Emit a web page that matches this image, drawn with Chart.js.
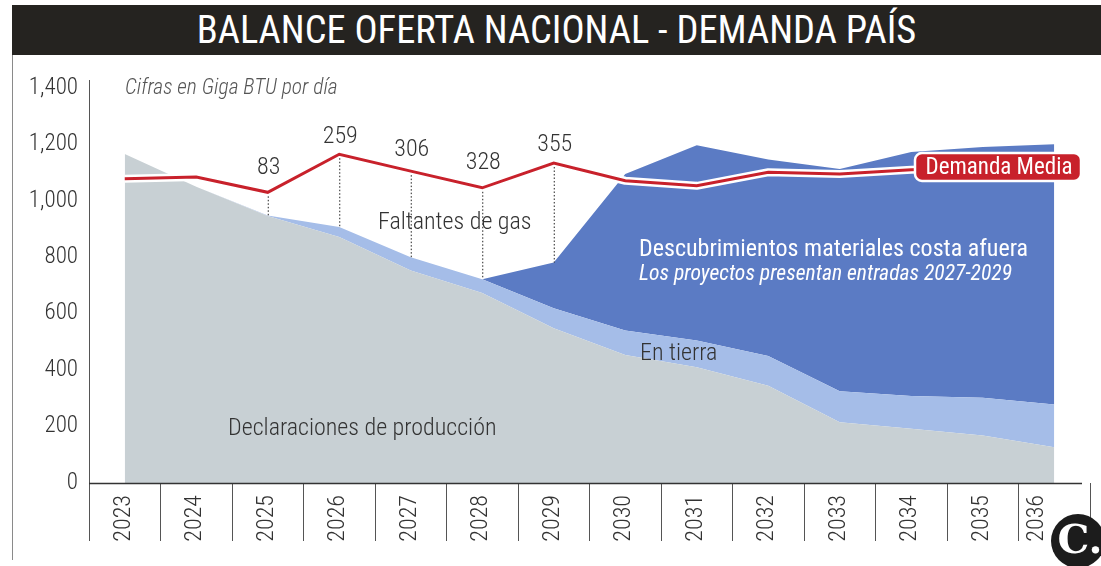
<!DOCTYPE html>
<html>
<head>
<meta charset="utf-8">
<script src="https://cdn.jsdelivr.net/npm/chart.js@4.4.0/dist/chart.umd.min.js"></script>
<style>
  html, body { margin: 0; padding: 0; background: #fff; }
  body { width: 1101px; height: 566px; position: relative; overflow: hidden; }
  .title-bar {
    position: absolute; left: 12px; top: 5px; right: 0; height: 50px;
    background: #252320; color: #fff; text-align: center;
    font-family: Roboto; font-weight: 400; font-size: 38.5px; font-stretch: condensed;
    line-height: 50px; z-index: 2;
  }
  .left-rule { position: absolute; left: 12px; top: 5px; bottom: 6px; width: 1px; background: #8a8a8a; }
  #chartBox { position: absolute; left: 0; top: 0; width: 1101px; height: 566px; }
</style>
</head>
<body>
  <div class="left-rule"></div>
  <div class="title-bar">BALANCE OFERTA NACIONAL - DEMANDA PAÍS</div>
  <div id="chartBox"><canvas id="balanceChart"></canvas></div>
  <script>
    // chart data
    let chartYears = ["2023", "2024", "2025", "2026", "2027", "2028", "2029",
      "2030", "2031", "2032", "2033", "2034", "2035", "2036"];
    let chartDeclaraciones = [1166, 1050, 946, 872, 753, 673, 548, 454, 410, 345, 215, 192, 168, 127];
    let chartEnTierra = [0, 0, 2, 35, 47, 49, 71, 86, 95, 105, 110, 116, 134, 151];
    let chartCostaAfuera = [0, 0, 0, 0, 0, 0, 162, 555, 692, 696, 788, 865, 889, 922];
    let chartDemanda = [1078, 1084, 1030, 1165, 1105, 1046, 1134, 1071, 1053, 1101, 1095, 1110, 1117, 1122];
    let chartFaltantes = [null, null, 83, 259, 306, 328, 355, null, null, null, null, null, null, null];
    let chartYTicks = [0, 200, 400, 600, 800, 1000, 1200, 1400];

    // chart colors
    let chartGray = "#c8d0d4";
    let chartLightBlue = "#a5bde8";
    let chartDarkBlue = "#5b7bc4";
    let chartRed = "#c8212b";
    let chartText = "#333333";

    // chart font (Roboto, condensed width)
    let chartFont = "Roboto";
    let chartStretch = "condensed";
    function fontStr(size, weight, style) {
      return (style || "normal") + " " + chartStretch + " " + (weight || 300) + " " + size + "px " + chartFont;
    }

    let supplyTotal = chartDeclaraciones.map((v, i) => v + chartEnTierra[i] + chartCostaAfuera[i]);

    const annotationPlugin = {
      id: "annotations",
      afterDatasetsDraw(chart) {
        const ctx = chart.ctx;
        const xs = chart.scales.x;
        const ys = chart.scales.y;
        ctx.save();

        // dotted gap lines + values
        chartFaltantes.forEach((val, i) => {
          if (val === null) return;
          const x = xs.getPixelForValue(i);
          const d = chartDemanda[i];
          const yTop = ys.getPixelForValue(d) + 4;
          const yBot = ys.getPixelForValue(supplyTotal[i]);
          ctx.beginPath();
          ctx.setLineDash([1.5, 2]);
          ctx.strokeStyle = "#222";
          ctx.lineWidth = 1;
          ctx.moveTo(x + 0.5, yTop);
          ctx.lineTo(x + 0.5, yBot);
          ctx.stroke();
          ctx.setLineDash([]);
          // peaks sit closer to the line, dips a bit higher
          let lift = 21;
          if (d > chartDemanda[i - 1] && d > chartDemanda[i + 1]) lift = 17.5;
          if (d < chartDemanda[i - 1] && d < chartDemanda[i + 1]) lift = 24.5;
          ctx.fillStyle = chartText;
          ctx.font = fontStr(24, 300);
          ctx.textAlign = "center";
          ctx.textBaseline = "middle";
          ctx.fillText(String(val), x + 1, ys.getPixelForValue(d) - lift);
        });

        // area texts
        ctx.textAlign = "left";
        ctx.textBaseline = "alphabetic";
        ctx.fillStyle = "#555";
        ctx.font = fontStr(21.5, 300, "italic");
        ctx.fillText("Cifras en Giga BTU por día", 125, 94);

        ctx.fillStyle = chartText;
        ctx.font = fontStr(24, 300);
        ctx.fillText("Faltantes de gas", 378, 229);
        ctx.fillText("En tierra", 640, 360);
        ctx.fillText("Declaraciones de producción", 228, 435);

        ctx.fillStyle = "#ffffff";
        ctx.font = fontStr(24, 400);
        ctx.fillText("Descubrimientos materiales costa afuera", 639, 256);
        ctx.font = fontStr(21.6, 400, "italic");
        ctx.fillText("Los proyectos presentan entradas 2027-2029", 639, 280);

        // Demanda Media tag
        ctx.beginPath();
        ctx.roundRect(915, 153, 166, 28, 7);
        ctx.fillStyle = chartRed;
        ctx.fill();
        ctx.lineWidth = 2.5;
        ctx.strokeStyle = "#ffffff";
        ctx.stroke();
        ctx.fillStyle = "#ffffff";
        ctx.font = fontStr(23, 400);
        ctx.textAlign = "center";
        ctx.textBaseline = "middle";
        ctx.fillText("Demanda Media", 999, 168);
        ctx.restore();
      },
      afterDraw(chart) {
        const ctx = chart.ctx;
        const xs = chart.scales.x;
        const area = chart.chartArea;
        ctx.save();
        // x axis line
        ctx.beginPath();
        ctx.strokeStyle = "#333";
        ctx.lineWidth = 1.5;
        ctx.moveTo(area.left, area.bottom + 0.5);
        ctx.lineTo(1082, area.bottom + 0.5);
        ctx.stroke();

        // year labels, rotated
        ctx.fillStyle = chartText;
        ctx.font = fontStr(24, 300);
        ctx.textAlign = "right";
        ctx.textBaseline = "middle";
        chartYears.forEach((yr, i) => {
          let x = xs.getPixelForValue(i) - 1;
          if (i === chartYears.length - 1) x = (xs.getPixelForValue(i - 0.5) + 1053) / 2 + 1;
          ctx.save();
          ctx.translate(x, area.bottom + 12);
          ctx.rotate(-Math.PI / 2);
          ctx.fillText(yr, 0, 0);
          ctx.restore();
        });

        // logo
        ctx.beginPath();
        ctx.arc(1078, 541, 27, 0, Math.PI * 2);
        ctx.fillStyle = "#1c1c1c";
        ctx.fill();
        ctx.fillStyle = "#ffffff";
        ctx.font = "bold 40px 'DejaVu Serif'";
        ctx.textAlign = "center";
        ctx.textBaseline = "middle";
        ctx.fillText("C.", 1080, 543);
        ctx.restore();
      }
    };

    function buildChart() {
      const ctx = document.getElementById("balanceChart").getContext("2d");
      const areaBase = { pointRadius: 0, borderWidth: 0, borderColor: "transparent", tension: 0, stack: "supply", order: 3 };
      return new Chart(ctx, {
        type: "line",
        data: {
          labels: chartYears,
          datasets: [
            Object.assign({}, areaBase, { label: "Declaraciones de producción", data: chartDeclaraciones, backgroundColor: chartGray, fill: "origin" }),
            Object.assign({}, areaBase, { label: "En tierra", data: chartEnTierra, backgroundColor: chartLightBlue, fill: "-1" }),
            Object.assign({}, areaBase, { label: "Costa afuera", data: chartCostaAfuera, backgroundColor: chartDarkBlue, fill: "-1" }),
            { label: "halo", data: chartDemanda, borderColor: "#ffffff", borderWidth: 8, pointRadius: 0, fill: false, tension: 0, stack: "halo", order: 2, borderJoinStyle: "round" },
            { label: "Demanda Media", data: chartDemanda, borderColor: chartRed, borderWidth: 3, pointRadius: 0, fill: false, tension: 0, stack: "demand", order: 1 }
          ]
        },
        options: {
          responsive: true,
          maintainAspectRatio: false,
          animation: false,
          layout: { padding: { top: 80, right: 11, bottom: 25, left: 0 } },
          plugins: { legend: { display: false }, tooltip: { enabled: false }, title: { display: false } },
          scales: {
            x: {
              offset: true,
              border: { display: false },
              grid: {
                offset: true,
                drawOnChartArea: false,
                drawTicks: true,
                tickLength: 58,
                color: (c) => (c.index === chartYears.length ? "transparent" : "#555"),
                lineWidth: 1
              },
              ticks: { display: false },
              afterFit: (scale) => { scale.height = 58; }
            },
            y: {
              stacked: true,
              min: 0,
              max: 1428,
              border: { display: true, color: "#555", width: 1 },
              grid: { display: false, drawTicks: false },
              afterBuildTicks: (scale) => { scale.ticks = chartYTicks.map(v => ({ value: v })); },
              ticks: {
                padding: 11,
                color: chartText,
                font: { family: chartFont, weight: chartStretch + " 300", size: 23 },
                callback: (v) => v.toLocaleString("en-US")
              },
              afterFit: (scale) => { scale.width = 89; }
            }
          }
        },
        plugins: [annotationPlugin]
      });
    }

    buildChart();
  </script>
</body>
</html>
